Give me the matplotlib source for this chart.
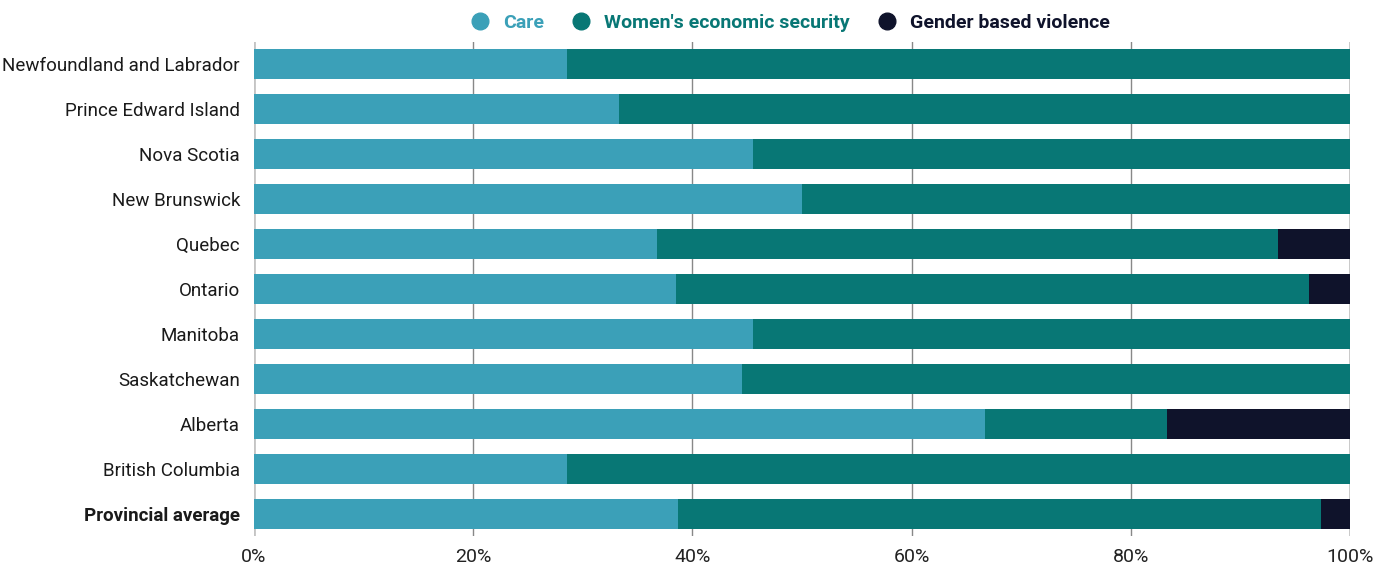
import matplotlib.pyplot as plt
from matplotlib import font_manager
from matplotlib.lines import Line2D

# pick a narrow font if there is one
names = {f.name for f in font_manager.fontManager.ttflist}
if "Liberation Sans Narrow" in names:
    fam = ["Liberation Sans Narrow", "DejaVu Sans"]
else:
    fam = ["Roboto", "DejaVu Sans"]
plt.rcParams['font.family'] = fam

provinces = ["Newfoundland and Labrador", "Prince Edward Island", "Nova Scotia",
             "New Brunswick", "Quebec", "Ontario", "Manitoba", "Saskatchewan",
             "Alberta", "British Columbia", "Provincial average"]
care = [28.6, 33.3, 45.5, 50.0, 36.8, 38.5, 45.5, 44.5, 66.7, 28.6, 38.7]
wes = [71.4, 66.7, 54.5, 50.0, 56.6, 57.8, 54.5, 55.5, 16.6, 71.4, 58.7]
gbv = [0.0, 0.0, 0.0, 0.0, 6.6, 3.7, 0.0, 0.0, 16.7, 0.0, 2.6]

series = ["Care", "Women's economic security", "Gender based violence"]
colors = ["#3BA0B8", "#087775", "#0F132B"]

fig = plt.figure(figsize=(13.87, 5.67), dpi=100)
ax = fig.add_axes([0.1831, 0.0538, 0.7902, 0.873])

y = list(range(len(provinces)))
left = [0.0] * len(provinces)
for vals, c in zip([care, wes, gbv], colors):
    ax.barh(y, vals, left=left, height=0.67, color=c, zorder=3)
    left = [l + v for l, v in zip(left, vals)]

ax.set_xlim(0, 100)
ax.set_ylim(len(provinces) - 0.5, -0.5)
ax.set_xticks([0, 20, 40, 60, 80, 100])
ax.set_xticklabels(["0%", "20%", "40%", "60%", "80%", "100%"], fontsize=14, color="#222222")
ax.set_yticks(y)
ax.set_yticklabels(provinces, fontsize=13.5, color="#1a1a1a")
ax.get_yticklabels()[-1].set_fontweight("bold")
ax.tick_params(length=0, pad=10)
ax.tick_params(axis='x', pad=8)

for s in ax.spines.values():
    s.set_visible(False)
for xv in [20, 40, 60, 80]:
    ax.axvline(xv, color="#888888", lw=1, zorder=1)
for xv in [0, 100]:
    ax.axvline(xv, color="#c4c4c4", lw=2, zorder=1)

handles = [Line2D([], [], marker='o', ls='', color=c, markersize=12) for c in colors]
leg = fig.legend(handles, series, loc="center", bbox_to_anchor=(0.566, 0.96), ncol=3,
                 frameon=False, handletextpad=0.2, columnspacing=0.9,
                 prop={'weight': 'bold', 'size': 14})
for t, c in zip(leg.get_texts(), colors):
    t.set_color(c)

fig.savefig("out.png", dpi=100)
